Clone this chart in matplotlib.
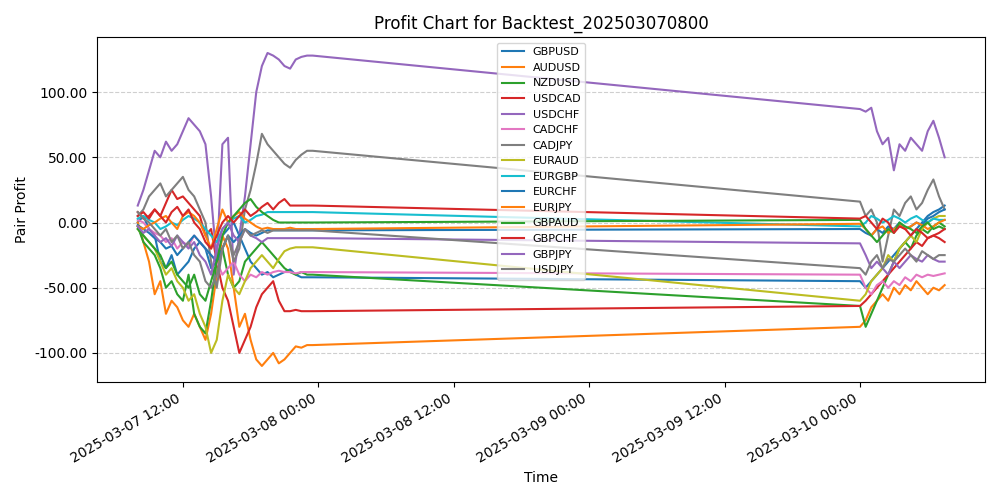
import numpy as np
import pandas as pd
import matplotlib
matplotlib.use("Agg")
import matplotlib.pyplot as plt
import matplotlib.dates as mdates
from matplotlib.ticker import FormatStrFormatter

# time stamps: two trading sessions, 30-minute steps
times_a = pd.date_range("2025-03-07 08:00", "2025-03-07 23:30", freq="30min")
times_b = pd.date_range("2025-03-10 00:00", "2025-03-10 07:30", freq="30min")
times = list(times_a) + list(times_b)

pairs = ["GBPUSD", "AUDUSD", "NZDUSD", "USDCAD", "USDCHF", "CADCHF", "CADJPY",
         "EURAUD", "EURGBP", "EURCHF", "EURJPY", "GBPAUD", "GBPCHF", "GBPJPY", "USDJPY"]
colors = ["#1f77b4", "#ff7f0e", "#2ca02c", "#d62728", "#9467bd", "#e377c2", "#7f7f7f",
          "#bcbd22", "#17becf", "#1f77b4", "#ff7f0e", "#2ca02c", "#d62728", "#9467bd", "#7f7f7f"]

GBPUSD = [0, 5, -5, -10, -30, -35, -25, -40, -35, -30, -20, -15, -20, -35, -30, -10, -5, 0, -10, -20, -30, -35, -40, -38, -42, -40, -38, -36, -40, -42, -42, -42,
          -45, -50, -45, -40, -35, -30, -25, -20, -15, -10, -5, 0, 5, 8, 10, 13]
AUDUSD = [0, -15, -30, -55, -45, -70, -60, -65, -75, -80, -70, -80, -90, -70, -40, -10, -20, -50, -80, -70, -90, -105, -110, -105, -100, -108, -105, -100, -95, -96, -94, -94,
          -80, -75, -65, -60, -55, -60, -50, -55, -48, -52, -45, -50, -55, -50, -52, -48]
NZDUSD = [-3, -15, -20, -25, -35, -50, -45, -55, -60, -40, -70, -80, -85, -60, -30, -20, -40, -50, -45, -30, -25, -20, -15, -20, -25, -30, -35, -38, -40, -38, -40, -40,
          -64, -80, -70, -60, -50, -40, -30, -20, -15, -20, -10, -5, -8, -3, 0, -3]
USDCAD = [8, 3, 5, 10, 5, 15, 25, 18, 20, 15, 10, 5, -10, -5, -30, -50, -60, -80, -100, -90, -80, -65, -55, -50, -45, -60, -68, -68, -67, -68, -68, -68,
          -64, -60, -55, -50, -45, -40, -35, -30, -25, -20, -15, -18, -12, -10, -12, -15]
USDCHF = [13, 25, 40, 55, 50, 62, 55, 60, 70, 80, 75, 70, 60, 20, -30, 60, 65, -40, -10, 20, 60, 100, 120, 130, 128, 125, 120, 118, 125, 127, 128, 128,
          87, 85, 88, 70, 60, 65, 40, 60, 55, 65, 60, 55, 70, 78, 65, 50]
CADCHF = [2, 0, -5, -8, -10, -15, -12, -20, -15, -18, -10, -15, -20, -25, -30, -40, -35, -30, -40, -45, -40, -42, -38, -40, -38, -37, -38, -38, -39, -38, -38, -38,
          -40, -50, -55, -48, -45, -50, -45, -48, -42, -45, -40, -42, -40, -41, -40, -39]
CADJPY = [5, 10, 20, 25, 30, 20, 25, 30, 35, 25, 20, 10, 0, -30, -50, -20, -10, -30, -20, 10, 25, 45, 68, 60, 55, 50, 45, 42, 48, 52, 55, 55,
          16, 5, 10, 0, -30, -10, 10, 5, 15, 20, 10, 15, 25, 33, 20, 10]
EURAUD = [-5, -10, -15, -20, -30, -40, -35, -45, -50, -60, -55, -70, -80, -100, -90, -60, -40, -50, -55, -45, -35, -30, -25, -30, -35, -28, -22, -20, -19, -19, -19, -19,
          -60, -55, -45, -40, -35, -25, -30, -20, -15, -10, -15, -5, 0, 3, 5, 5]
EURGBP = [3, 5, 2, 0, -5, -3, 0, -2, 2, 5, 3, 0, -5, -10, -15, -5, 0, 3, 5, 0, 2, 5, 6, 8, 8, 8, 8, 8, 8, 8, 8, 8,
          -3, 0, 5, 3, 0, 2, 5, 3, 0, 3, 5, 2, 0, 3, 2, 2]
EURCHF = [-2, -5, -8, -12, -15, -20, -18, -25, -20, -15, -10, -15, -20, -25, -30, -20, -10, -15, -10, -5, -8, -10, -8, -6, -6, -6, -6, -6, -6, -6, -6, -6,
          -5, -8, -10, -5, -8, -3, -5, 0, -5, -3, 0, -2, 3, 5, 8, 10]
EURJPY = [-3, -5, -2, 0, 3, 5, 0, -5, 5, 8, 5, 0, -10, -20, -5, 10, 0, 5, 8, 3, 0, -3, -5, -4, -5, -5, -5, -4, -5, -5, -5, -5,
          -1, -5, -10, -5, -3, -8, -5, -2, -5, -3, 0, -2, -5, -3, 0, 2]
GBPAUD = [-5, -10, -15, -20, -25, -35, -30, -40, -45, -50, -40, -55, -60, -45, -30, -10, 0, 5, 10, 15, 18, 12, 8, 5, 2, 0, 0, 0, 0, 0, 0, 0,
          2, -5, -10, -15, -10, -5, -8, 0, -3, -5, -8, -3, 0, -5, -3, -5]
GBPCHF = [5, 8, 3, 10, 5, 0, 8, 12, 5, 10, 0, -5, -15, -20, -10, 0, 5, 0, 5, 10, 5, 8, 12, 15, 10, 15, 18, 13, 13, 13, 13, 13,
          3, 5, 0, -5, 3, 0, -8, -3, -5, -10, -5, -8, -12, -10, -8, -5]
GBPJPY = [-3, -8, -5, -10, -15, -12, -18, -10, -15, -20, -15, -25, -30, -40, -20, -5, 0, -10, -15, -5, -10, -12, -15, -12, -12, -12, -12, -12, -12, -12, -12, -12,
          -16, -25, -35, -30, -35, -40, -30, -35, -30, -25, -28, -30, -25, -28, -30, -30]
USDJPY = [8, 3, 0, -5, -10, -5, -15, -10, -20, -15, -25, -30, -45, -50, -40, -20, -10, -25, -15, -5, -10, -8, -6, -8, -6, -6, -6, -6, -6, -6, -6, -6,
          -35, -40, -30, -25, -35, -28, -30, -25, -20, -25, -30, -22, -25, -28, -25, -25]

series = [GBPUSD, AUDUSD, NZDUSD, USDCAD, USDCHF, CADCHF, CADJPY, EURAUD, EURGBP,
          EURCHF, EURJPY, GBPAUD, GBPCHF, GBPJPY, USDJPY]

fig, ax = plt.subplots(figsize=(10, 5), dpi=100)
for name, vals, c in zip(pairs, series, colors):
    ax.plot(times, vals, label=name, color=c, linewidth=1.5)

ax.set_title("Profit Chart for Backtest_202503070800")
ax.set_xlabel("Time")
ax.set_ylabel("Pair Profit")
ax.yaxis.set_major_formatter(FormatStrFormatter("%.2f"))
ax.xaxis.set_major_locator(mdates.HourLocator(byhour=[0, 12]))
ax.xaxis.set_major_formatter(mdates.DateFormatter("%Y-%m-%d %H:%M"))
ax.grid(axis="y", linestyle="--", alpha=0.6)
ax.legend(loc="upper center", fontsize=8)
fig.autofmt_xdate()
fig.tight_layout()
fig.savefig("out.png")
